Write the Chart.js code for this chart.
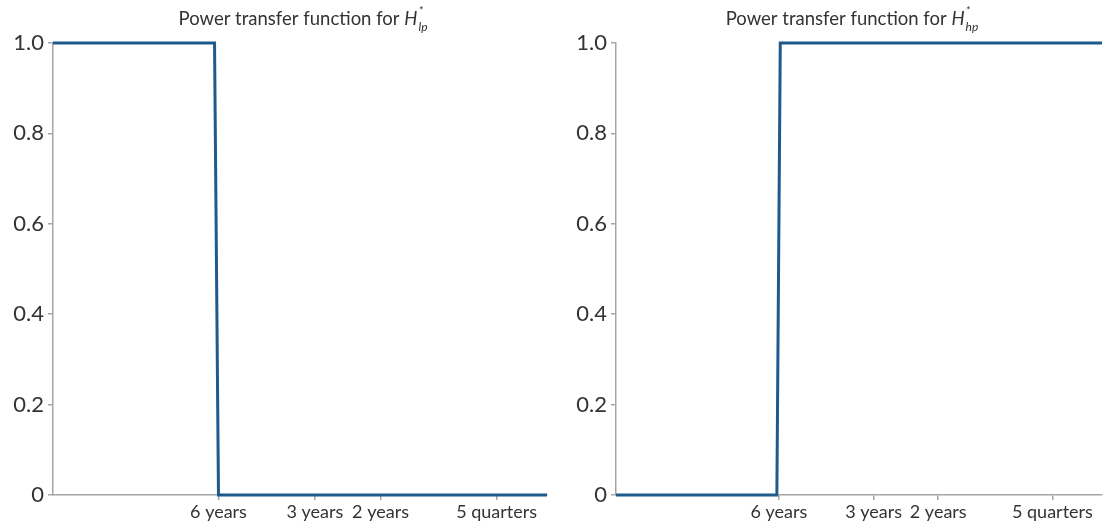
<!DOCTYPE html>
<html>
<head>
<meta charset="utf-8">
<script src="https://cdn.jsdelivr.net/npm/chart.js@4.4.0/dist/chart.umd.min.js"></script>
<style>
  html, body { margin: 0; padding: 0; background: #fff; }
  #wrap { position: relative; width: 1105px; height: 522px; overflow: hidden; }
  canvas { position: absolute; top: 0; }
</style>
</head>
<body>
<div id="wrap">
  <canvas id="c1" width="550" height="522" style="left:0px"></canvas>
  <canvas id="c2" width="545" height="522" style="left:560px"></canvas>
</div>
<script>
// Frequency axis (normalised 0..1) with the period labels shown on the axis
const xTickValues = [0.335, 0.530, 0.663, 0.898];
const xTickLabels = ['6 years', '3 years', '2 years', '5 quarters'];
const yTickValues = [0, 0.2, 0.4, 0.6, 0.8, 1.0];

// Low-pass power transfer function (ideal step down at 6 years)
const lpX = [0, 0.327, 0.335, 1];
const lpY = [1, 1, 0, 0];
// High-pass power transfer function (ideal step up at 6 years)
const hpX = [0, 0.331, 0.338, 1];
const hpY = [0, 0, 1, 1];

const titles = [
  { main: 'Power transfer function for ', sym: 'H', sup: '*', sub: 'lp' },
  { main: 'Power transfer function for ', sym: 'H', sup: '*', sub: 'hp' }
];

const FONT = 'Lato, "Source Sans Pro", "Noto Sans", sans-serif';
const TEXT = '#333333';
const AXIS = '#a6a6a6';
const LINE = '#1f5a8c';

function titlePlugin(t, shift) {
  return {
    id: 'mathTitle',
    afterDraw(chart) {
      const ctx = chart.ctx;
      const ca = chart.chartArea;
      ctx.save();
      ctx.fillStyle = TEXT;
      ctx.textBaseline = 'alphabetic';
      ctx.textAlign = 'left';
      const fMain = '18.5px ' + FONT;
      const fSym = 'italic 18.5px ' + FONT;
      const fSmall = 'italic 12px ' + FONT;
      ctx.font = fMain; const wMain = ctx.measureText(t.main).width;
      ctx.font = fSym; const wSym = ctx.measureText(t.sym).width;
      ctx.font = fSmall;
      const wSup = ctx.measureText(t.sup).width;
      const wSub = ctx.measureText(t.sub).width;
      const total = wMain + wSym + 1 + Math.max(wSup, wSub);
      let x = (ca.left + ca.right) / 2 - total / 2 + shift;
      const base = 25;
      ctx.font = fMain; ctx.fillText(t.main, x, base); x += wMain;
      ctx.font = fSym; ctx.fillText(t.sym, x, base); x += wSym + 1;
      ctx.font = fSmall;
      ctx.fillText(t.sup, x, base - 10);
      ctx.fillText(t.sub, x, base + 6);
      ctx.restore();
    }
  };
}

function makeChart(id, xs, ys, t, yWidth, shift) {
  const pts = xs.map((x, i) => ({ x: x, y: ys[i] }));
  return new Chart(document.getElementById(id), {
    type: 'scatter',
    data: {
      datasets: [{
        data: pts,
        showLine: true,
        borderColor: LINE,
        backgroundColor: LINE,
        borderWidth: 3,
        pointRadius: 0,
        tension: 0,
        clip: 4
      }]
    },
    options: {
      responsive: false,
      animation: false,
      devicePixelRatio: 1,
      layout: { padding: { top: 43, right: 3, left: 0, bottom: 0 } },
      plugins: { legend: { display: false }, tooltip: { enabled: false }, title: { display: false } },
      scales: {
        x: {
          type: 'linear',
          min: 0, max: 1,
          afterBuildTicks(scale) { scale.ticks = xTickValues.map(v => ({ value: v })); },
          afterFit(scale) { scale.height = 27; },
          ticks: {
            autoSkip: false, maxRotation: 0, padding: 1,
            color: TEXT, font: { family: FONT, size: 18 },
            callback(v) { const i = xTickValues.indexOf(v); return i >= 0 ? xTickLabels[i] : ''; }
          },
          grid: { display: true, drawOnChartArea: false, drawTicks: true, tickLength: 5, color: AXIS, lineWidth: 1.5 },
          border: { display: true, color: AXIS, width: 1.5 }
        },
        y: {
          type: 'linear',
          min: 0, max: 1,
          afterBuildTicks(scale) { scale.ticks = yTickValues.map(v => ({ value: v })); },
          afterFit(scale) { scale.width = yWidth; },
          ticks: {
            padding: 4,
            color: TEXT, font: { family: FONT, size: 22 },
            callback(v) { return v === 0 ? '0' : v.toFixed(1); }
          },
          grid: { display: true, drawOnChartArea: false, drawTicks: true, tickLength: 5, color: AXIS, lineWidth: 1.5 },
          border: { display: true, color: AXIS, width: 1.5 }
        }
      }
    },
    plugins: [titlePlugin(t, shift)]
  });
}

makeChart('c1', lpX, lpY, titles[0], 53, 3);
makeChart('c2', hpX, hpY, titles[1], 56, -7);
</script>
</body>
</html>
